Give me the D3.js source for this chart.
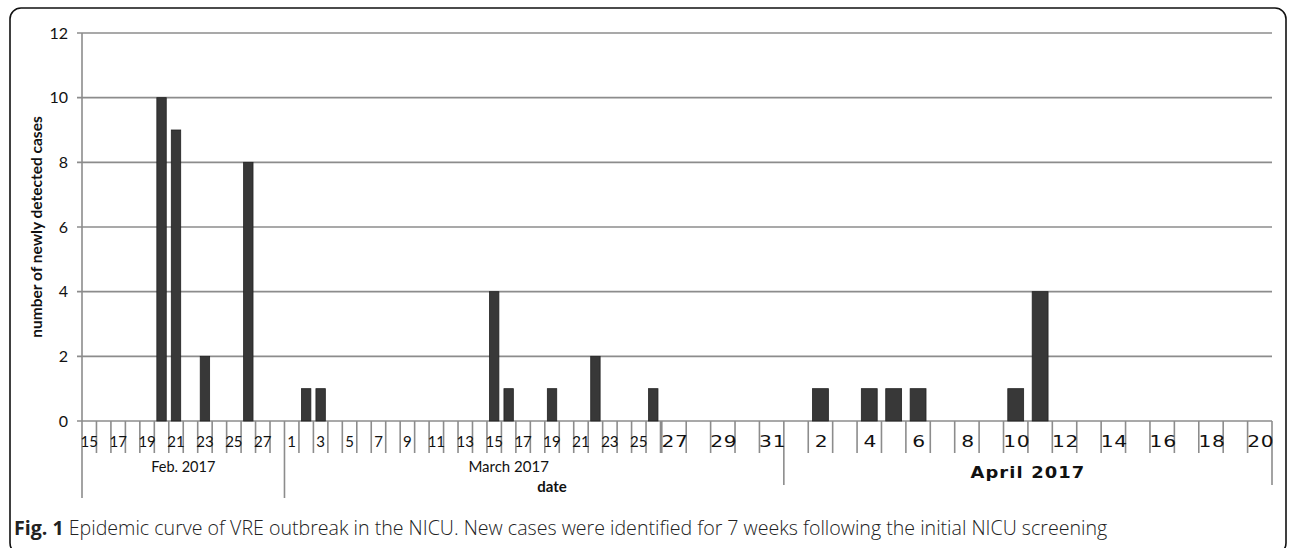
<!DOCTYPE html>
<html><head><meta charset="utf-8">
<script src="https://cdn.jsdelivr.net/npm/d3@7"></script>
<style>body{margin:0;background:#fff}svg{display:block}</style>
</head><body>
<svg id="c" width="1293" height="548"></svg>
<script>
// ---- data ----
const febDays = [15,16,17,18,19,20,21,22,23,24,25,26,27,28];
const marchDays = [1,2,3,4,5,6,7,8,9,10,11,12,13,14,15,16,17,18,19,20,21,22,23,24,25,26,27,28,29,30,31];
const aprilDays = [1,2,3,4,5,6,7,8,9,10,11,12,13,14,15,16,17,18,19,20];
const caseDates = ["2-20","2-21","2-23","2-26","3-2","3-3","3-15","3-16","3-19","3-22","3-26","4-2","4-4","4-5","4-6","4-10","4-11"];
const caseCounts = [10,9,2,8,1,1,4,1,1,2,1,1,1,1,1,1,4];
const yTicks = [0,2,4,6,8,10,12];
const febLabels = [15,17,19,21,23,25,27];
const marchLabelsNarrow = [1,3,5,7,9,11,13,15,17,19,21,23,25];
const marchLabelsWide = [27,29,31];
const aprilLabels = [2,4,6,8,10,12,14,16,18,20];
const groupLabels = ["Feb. 2017","March 2017","April 2017"];

// ---- layout ----
const svg = d3.select("#c");
const yBase = 421, yTop = 33;
const x0 = 82, splitX = 660.5, split2 = 661.8, xEnd = 1272;
const y = d3.scaleLinear().domain([0,12]).range([yBase,yTop]);

const key = (m,d)=>m+"-"+d;
const p1Dom = febDays.map(d=>key(2,d)).concat(marchDays.map(d=>key(3,d)));
const p1Shown = febDays.map(d=>key(2,d)).concat(marchDays.filter(d=>d<=26).map(d=>key(3,d)));
const p2Dom = marchDays.filter(d=>d>=27).map(d=>key(3,d)).concat(aprilDays.map(d=>key(4,d)));
const w1 = (splitX - x0)/p1Shown.length;
const xa = d3.scaleBand().domain(p1Dom).range([x0, x0 + w1*p1Dom.length]).paddingInner(0).paddingOuter(0);
const xb = d3.scaleBand().domain(p2Dom).range([split2, xEnd]);
const inB = k => p2Dom.includes(k);
const xs = k => inB(k) ? xb : xa;

// frame
svg.append("rect").attr("x",10).attr("y",8).attr("width",1276).attr("height",546)
  .attr("rx",11).attr("fill","none").attr("stroke","#111").attr("stroke-width",1.6);

// gridlines
const grid = "#8c8c8c";
svg.append("g").selectAll("line").data(yTicks).join("line")
  .attr("x1",77).attr("x2",xEnd).attr("y1",d=>y(d)).attr("y2",d=>y(d))
  .attr("stroke",grid).attr("stroke-width",1.6);
// y axis line
svg.append("line").attr("x1",x0).attr("x2",x0).attr("y1",yTop).attr("y2",yBase)
  .attr("stroke",grid).attr("stroke-width",1.6);
// y labels
svg.append("g").selectAll("text").data(yTicks).join("text")
  .attr("x",68).attr("y",d=>y(d)+5.5).attr("text-anchor","end")
  .attr("font-family","Lato, 'Open Sans', sans-serif").attr("font-size",16).attr("fill","#111")
  .text(d=>d);
svg.append("text").attr("transform",`translate(42,${(yTop+yBase)/2}) rotate(-90)`)
  .attr("text-anchor","middle").attr("font-family","Lato, sans-serif").attr("font-weight","bold")
  .attr("font-size",15.5).attr("fill","#111").text("number of newly detected cases");

// bars
const bars = caseDates.map((k,i)=>({k, v:caseCounts[i]}));
svg.append("g").selectAll("rect").data(bars).join("rect")
  .attr("x",d=>{const s=xs(d.k); return s(d.k)+s.bandwidth()*0.175;})
  .attr("width",d=>xs(d.k).bandwidth()*0.65)
  .attr("y",d=>y(d.v)).attr("height",d=>yBase-y(d.v))
  .attr("fill","#383838").attr("stroke","#222").attr("stroke-width",0.8);

// x ticks part 1
const p1Edges = p1Shown.map(k=>xa(k)).concat([splitX]);
const longA = [x0, xa(key(3,1))];
svg.append("g").selectAll("line").data(p1Edges).join("line")
  .attr("x1",d=>d).attr("x2",d=>d).attr("y1",yBase)
  .attr("y2",d=>longA.some(l=>Math.abs(l-d)<0.5)?498:453)
  .attr("stroke",grid).attr("stroke-width",1.6);
// x ticks part 2
const p2Edges = p2Dom.map(k=>xb(k)).concat([xEnd]);
const longB = [xb(key(4,1)), xEnd];
svg.append("g").selectAll("line").data(p2Edges).join("line")
  .attr("x1",d=>d).attr("x2",d=>d).attr("y1",yBase)
  .attr("y2",d=>longB.some(l=>Math.abs(l-d)<0.5)?485:453)
  .attr("stroke",grid).attr("stroke-width",1.6);

// x labels
const narrowFont = "Lato, sans-serif", wideFont = "'DejaVu Sans', Verdana, sans-serif";
const nl = febLabels.map(d=>key(2,d)).concat(marchLabelsNarrow.map(d=>key(3,d)));
svg.append("g").selectAll("text").data(nl).join("text")
  .attr("x",k=>xa(k)+xa.bandwidth()/2).attr("y",447).attr("text-anchor","middle")
  .attr("font-family",narrowFont).attr("font-size",15).attr("fill","#111")
  .text(k=>k.split("-")[1]);
const wl = marchLabelsWide.map(d=>key(3,d)).concat(aprilLabels.map(d=>key(4,d)));
svg.append("g").selectAll("text").data(wl).join("text")
  .attr("transform",k=>`translate(${xb(k)+xb.bandwidth()/2+1},447) scale(1.35,1)`)
  .attr("text-anchor","middle")
  .attr("font-family",wideFont).attr("font-size",15).attr("letter-spacing",0.5).attr("fill","#111")
  .text(k=>k.split("-")[1]);

// group labels
const febC = (xa(key(2,15)) + xa(key(3,1)))/2;
const marC = (xa(key(3,1)) + xa(key(3,31)) + xa.bandwidth())/2;
const aprC = (xb(key(4,1)) + xEnd)/2;
svg.append("text").attr("x",febC).attr("y",472).attr("text-anchor","middle")
  .attr("font-family",narrowFont).attr("font-size",14.5).attr("fill","#111").text(groupLabels[0]);
svg.append("text").attr("x",marC).attr("y",472).attr("text-anchor","middle")
  .attr("font-family",narrowFont).attr("font-size",15).attr("fill","#111").text(groupLabels[1]);
svg.append("text").attr("transform",`translate(${aprC},478) scale(1.12,1)`).attr("text-anchor","middle")
  .attr("font-family",wideFont).attr("font-size",16).attr("font-weight","bold").attr("letter-spacing",1)
  .attr("fill","#111").text(groupLabels[2]);
svg.append("text").attr("x",552).attr("y",492).attr("text-anchor","middle")
  .attr("font-family",narrowFont).attr("font-weight","bold").attr("font-size",15).attr("fill","#111").text("date");

// caption
const cap = svg.append("text").attr("x",14).attr("y",535)
  .attr("font-family","'Open Sans', 'Noto Sans', sans-serif").attr("font-size",19.6).attr("fill","#222");
cap.append("tspan").attr("font-weight","bold").text("Fig. 1");
cap.append("tspan").attr("font-weight","300").text(" Epidemic curve of VRE outbreak in the NICU. New cases were identified for 7 weeks following the initial NICU screening");
</script>
</body></html>
